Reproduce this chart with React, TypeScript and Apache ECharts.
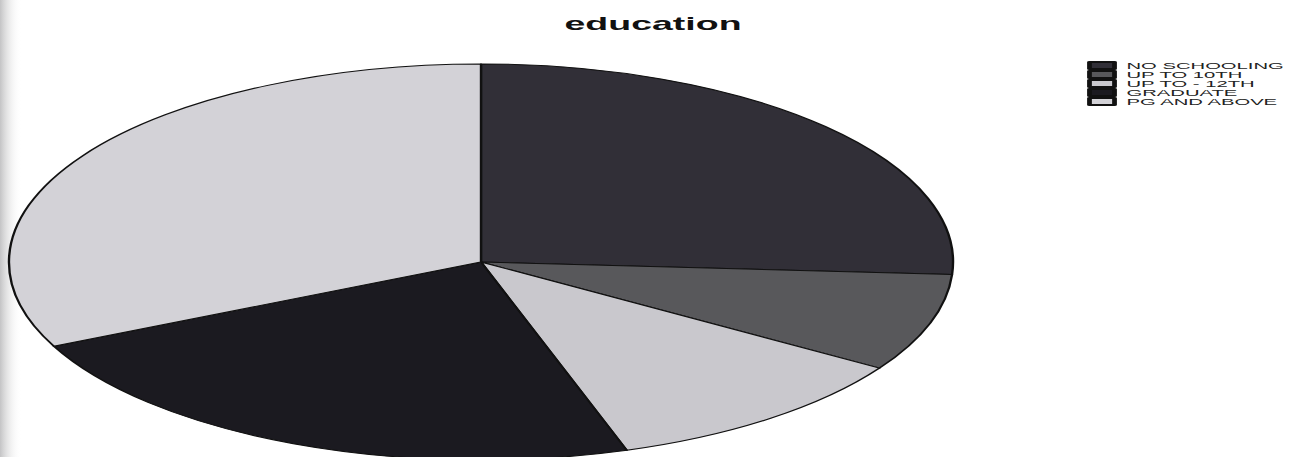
import React, { useEffect, useRef } from "react";
import * as echarts from "echarts";

const categories = ["NO SCHOOLING", "UP TO 10TH", "UP TO - 12TH", "GRADUATE", "PG AND ABOVE"];
const values = [26, 8, 11, 23, 32];
const colors = ["#312f37", "#58585b", "#c9c8cd", "#1b1a20", "#d3d2d7"];
const titleText = "education";

const W = 1305;
const H = 457;
const S = 2.384; // horizontal stretch of the scanned chart

export default function App() {
  const ref = useRef<HTMLDivElement>(null);

  useEffect(() => {
    if (!ref.current) return;
    const chart = echarts.init(ref.current, undefined, { renderer: "svg" });
    chart.setOption({
      animation: false,
      backgroundColor: "#ffffff",
      graphic: [
        {
          type: "rect",
          shape: { x: 0, y: 0, width: 9, height: H },
          style: {
            fill: new echarts.graphic.LinearGradient(0, 0, 1, 0, [
              { offset: 0, color: "rgba(170,170,172,0.7)" },
              { offset: 1, color: "rgba(255,255,255,0)" },
            ]),
          },
          silent: true,
          z: -1,
        },
        {
          type: "text",
          x: 653 / S,
          y: 23.5,
          scaleX: 0.828,
          style: {
            text: titleText,
            fill: "#111",
            font: "bold 19px 'Liberation Sans', Arial, sans-serif",
            align: "center",
            verticalAlign: "middle",
          },
        },
      ],
      legend: {
        orient: "vertical",
        left: 456,
        top: 61,
        padding: 0,
        itemGap: 0,
        itemWidth: 10.5,
        itemHeight: 7,
        icon: "rect",
        data: categories,
        textStyle: {
          fontSize: 8.5,
          lineHeight: 9,
          color: "#222",
          fontFamily: "'Liberation Sans', Arial, sans-serif",
        },
      },
      series: [
        {
          type: "pie",
          center: [481 / S, 262],
          radius: 198,
          startAngle: 90,
          clockwise: true,
          label: { show: false },
          labelLine: { show: false },
          emphasis: { disabled: true },
          itemStyle: { borderColor: "#111", borderWidth: 1 },
          data: categories.map((name, i) => ({
            name,
            value: values[i],
            itemStyle: { color: colors[i] },
          })),
        },
      ],
    });
    return () => chart.dispose();
  }, []);

  return (
    <div
      style={{
        position: "fixed",
        left: 0,
        top: 0,
        width: W,
        height: H,
        overflow: "hidden",
        background: "#fff",
      }}
    >
      <div
        ref={ref}
        style={{
          width: W / S,
          height: H,
          transform: `scaleX(${S})`,
          transformOrigin: "0 0",
        }}
      />
    </div>
  );
}
